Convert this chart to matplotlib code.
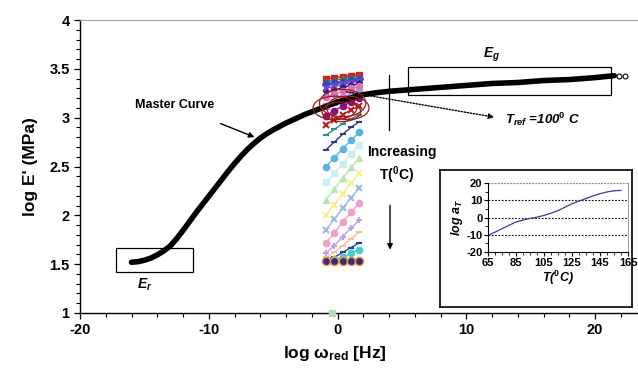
import numpy as np
import matplotlib
matplotlib.use("Agg")
import matplotlib.pyplot as plt
from matplotlib.patches import Ellipse, Rectangle
from matplotlib.ticker import MultipleLocator

plt.rcParams['font.family'] = ['Liberation Sans', 'DejaVu Sans']
plt.rcParams['mathtext.fontset'] = 'custom'
plt.rcParams['mathtext.rm'] = 'Liberation Sans:bold'
plt.rcParams['mathtext.it'] = 'Liberation Sans:bold:italic'
plt.rcParams['mathtext.bf'] = 'Liberation Sans:bold'
plt.rcParams['axes.unicode_minus'] = False

# ---- data ----
master_x = [-16, -15.5, -15, -14.5, -14, -13.5, -13, -12.5, -12, -11.5, -11, -10.5, -10, -9.5,
            -9, -8.5, -8, -7.5, -7, -6.5, -6, -5.5, -5, -4.5, -4, -3.5, -3, -2.5, -2, -1.5, -1,
            -0.5, 0, 0.5, 1, 1.5, 2, 3, 4, 5, 6, 8, 10, 12, 14, 16, 18, 20, 21.5]
master_y = [1.52, 1.525, 1.54, 1.562, 1.595, 1.635, 1.685, 1.76, 1.845, 1.935, 2.025, 2.11, 2.195,
            2.28, 2.365, 2.45, 2.53, 2.605, 2.675, 2.735, 2.79, 2.835, 2.875, 2.91, 2.945, 2.975,
            3.005, 3.035, 3.06, 3.085, 3.11, 3.135, 3.16, 3.18, 3.20, 3.22, 3.235, 3.255, 3.27,
            3.28, 3.29, 3.31, 3.33, 3.35, 3.36, 3.38, 3.39, 3.41, 3.43]
end_x = [21.9, 22.3]
end_y = [3.43, 3.43]

seg_x = [-0.9, -0.25, 0.4, 1.05, 1.7]
seg_y = [
    [3.40, 3.41, 3.42, 3.43, 3.44],
    [3.37, 3.38, 3.40, 3.41, 3.42],
    [3.34, 3.36, 3.37, 3.39, 3.40],
    [3.30, 3.32, 3.34, 3.36, 3.38],
    [3.26, 3.28, 3.31, 3.33, 3.35],
    [3.21, 3.24, 3.27, 3.30, 3.32],
    [3.12, 3.16, 3.20, 3.23, 3.26],
    [3.02, 3.07, 3.12, 3.16, 3.20],
    [2.93, 2.98, 3.03, 3.08, 3.12],
    [2.82, 2.88, 2.94, 2.99, 3.03],
    [2.67, 2.75, 2.83, 2.90, 2.96],
    [2.50, 2.59, 2.68, 2.77, 2.85],
    [2.34, 2.43, 2.53, 2.63, 2.72],
    [2.16, 2.27, 2.38, 2.49, 2.59],
    [2.00, 2.11, 2.22, 2.33, 2.43],
    [1.85, 1.96, 2.07, 2.18, 2.28],
    [1.72, 1.82, 1.93, 2.03, 2.13],
    [1.61, 1.69, 1.78, 1.87, 1.95],
    [1.57, 1.62, 1.69, 1.76, 1.83],
    [1.55, 1.57, 1.62, 1.67, 1.72],
    [1.54, 1.55, 1.57, 1.61, 1.65],
    [1.53, 1.53, 1.53, 1.53, 1.53],
]
seg_colors = ['#d02020', '#20a040', '#2050d0', '#8040c0', '#202080', '#e070b0',
              '#b090e0', '#801080', '#c02020', '#1a9a8a', '#2b3a8f', '#5ab4e0',
              '#c8f0f0', '#b8e8b0', '#f5f08a', '#a0b8e8', '#f0a0c8', '#c0a0e8',
              '#f8c090', '#2040a0', '#40d0d0', '#3a2a8a']
seg_markers = ['s', '^', 'D', 'x', '*', 'o', 's', 'o', 'x', '_', '_', 'o',
               's', '^', 'x', 'x', 'o', '+', '_', '_', 'o', 'o']

ell_x = [-0.2, 0.4, 0.8, 0.3]
ell_y = [3.10, 3.15, 3.10, 3.06]
ell_w = [3.4, 3.6, 3.3, 3.0]
ell_h = [0.24, 0.28, 0.24, 0.2]

inset_T = [65, 70, 75, 80, 85, 90, 95, 100, 105, 110, 115, 120, 125, 130, 135, 140, 145, 150, 155, 160]
inset_a = [-10.3, -8.5, -6.5, -4.5, -2.6, -1.5, -0.5, 0.2, 1.2, 2.5, 4.0, 6.0, 8.0, 9.5, 11.0, 12.5, 13.8, 14.8, 15.5, 15.7]

# ---- figure ----
fig = plt.figure(figsize=(6.38, 3.75), dpi=100)
ax = fig.add_axes([80/638, 62/375, 1 - 80/638, (313-20)/375])
ax.set_xlim(-20, -20 + (638-80)/12.875)
ax.set_ylim(1, 4)

for ys, c, m in zip(seg_y, seg_colors, seg_markers):
    mec = '#f0a030' if c == '#3a2a8a' else c
    ms = 6 if c == '#3a2a8a' else 4.5
    ax.plot(seg_x, ys, color=c, lw=1.0, marker=m, ms=ms, mec=mec, mew=1.5 if m in 'x+_' else 1.0, zorder=2)

for ex, ey, ew, eh in zip(ell_x, ell_y, ell_w, ell_h):
    ax.add_patch(Ellipse((ex, ey), ew, eh, fill=False, ec='#a01818', lw=0.9, zorder=4))

ax.plot(master_x, master_y, color='black', lw=4.0, solid_capstyle='round', zorder=3)
ax.plot(end_x, end_y, 'o', mfc='white', mec='black', ms=3.5, mew=0.8, zorder=3)
ax.plot([-0.4], [1.0], 's', color='#b8d8c0', ms=4, clip_on=False, zorder=5)

# boxes
ax.add_patch(Rectangle((-17.2, 1.42), 6.0, 0.25, fill=False, ec='black', lw=0.9, zorder=5))
ax.add_patch(Rectangle((5.48, 3.23), 15.76, 0.29, fill=False, ec='black', lw=0.9, zorder=5))

# annotations
ax.text(-15.73, 3.13, 'Master Curve', fontsize=9, fontweight='bold', va='center', ha='left')
ax.annotate('', xy=(-6.25, 2.79), xytext=(-9.28, 2.95),
            arrowprops=dict(arrowstyle='-|>', color='black', lw=1.0, mutation_scale=8))
ax.text(12.0, 3.64, r'$E_{g}$', fontsize=10, ha='center', va='center')
ax.text(-14.95, 1.29, r'$E_{r}$', fontsize=10, ha='center', va='center')
ax.annotate('', xy=(12.39, 3.0), xytext=(0.5, 3.27),
            arrowprops=dict(arrowstyle='-|>', color='black', lw=1.0, ls=(0, (1, 1.2)), mutation_scale=8))
ax.text(13.0, 2.98, r'$T_{ref}$ =100$^{0}$ C', fontsize=9.5, fontstyle='italic',
        fontweight='bold', ha='left', va='center')
ax.plot([4.0, 4.0], [2.87, 3.44], color='black', lw=0.9, zorder=5)
ax.annotate('', xy=(4.08, 1.62), xytext=(4.08, 2.13),
            arrowprops=dict(arrowstyle='-|>', color='black', lw=1.0, mutation_scale=8))
ax.text(5.0, 2.65, 'Increasing', fontsize=10, fontweight='bold', ha='center', va='center')
ax.text(4.6, 2.41, 'T($^{0}$C)', fontsize=10, fontweight='bold', ha='center', va='center')

# axes styling
ax.spines['right'].set_visible(False)
ax.spines['top'].set_color('#a0a0a0')
ax.spines['left'].set_linewidth(1.0)
ax.spines['bottom'].set_linewidth(1.0)
ax.set_xticks([-20, -10, 0, 10, 20])
ax.set_yticks([1, 1.5, 2, 2.5, 3, 3.5, 4])
ax.set_yticklabels(['1', '1.5', '2', '2.5', '3', '3.5', '4'])
ax.xaxis.set_minor_locator(MultipleLocator(2))
ax.yaxis.set_minor_locator(MultipleLocator(0.1))
ax.tick_params(which='major', direction='out', length=4, width=0.9, labelsize=10.5)
ax.tick_params(which='minor', direction='out', length=3, width=0.8)
for lab in ax.get_xticklabels() + ax.get_yticklabels():
    lab.set_fontweight('bold')
ax.set_xlabel('log ω$_{\\mathrm{red}}$ [Hz]', fontsize=12.5, fontweight='bold', labelpad=6)
ax.set_ylabel("log E' (MPa)", fontsize=12.5, fontweight='bold', labelpad=8)
ax.xaxis.set_label_coords((335-80)/558, -0.105)

# inset frame
frame = fig.add_axes([440/638, (375-307)/375, 192/638, 137/375])
frame.set_xticks([]); frame.set_yticks([])
for s in frame.spines.values():
    s.set_linewidth(1.2)
frame.set_zorder(5)

ins = fig.add_axes([488/638, (375-252)/375, 140/638, 69/375])
ins.set_zorder(6)
ins.plot(inset_T, inset_a, color='#3a3a9a', lw=0.9)
ins.set_xlim(65, 165)
ins.set_ylim(-20, 20)
ins.set_xticks([65, 85, 105, 125, 145, 165])
ins.set_yticks([-20, -10, 0, 10, 20])
ins.xaxis.set_minor_locator(MultipleLocator(5))
ins.yaxis.set_minor_locator(MultipleLocator(5))
for yv in [-10, 0, 10]:
    ins.axhline(yv, color='black', lw=0.8, ls=(0, (1.5, 1.5)), zorder=0)
ins.axhline(20, color='#888888', lw=0.9, ls=(0, (1.5, 1.0)), zorder=0)
ins.spines['top'].set_visible(False)
ins.spines['right'].set_color('#a0a0a0')
ins.tick_params(which='major', direction='out', length=3, width=0.8, labelsize=8, pad=1)
ins.tick_params(which='minor', direction='out', length=2, width=0.6)
for lab in ins.get_xticklabels() + ins.get_yticklabels():
    lab.set_fontweight('bold')
ins.set_xlabel('T($^{0}$C)', fontsize=9, fontweight='bold', fontstyle='italic', labelpad=1)
ins.set_ylabel('log $a_{T}$', fontsize=9, fontweight='bold', fontstyle='italic', labelpad=1)

fig.savefig('out.png', dpi=100)
